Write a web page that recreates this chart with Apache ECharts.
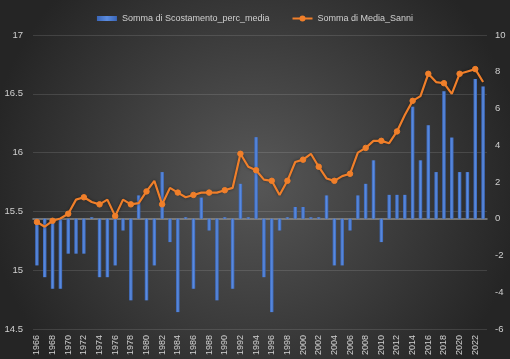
<!DOCTYPE html>
<html>
<head>
<meta charset="utf-8">
<script src="https://cdn.jsdelivr.net/npm/echarts@6/dist/echarts.min.js"></script>
<style>html,body{margin:0;padding:0;background:#2a2a2a;}#c{width:510px;height:359px;}</style>
</head>
<body>
<div id="c"></div>
<script>
const years = [];
for (let y = 1966; y <= 2023; y++) years.push(String(y));

const scostamento = [
  -2.54, -3.18, -3.81, -3.81, -1.9, -1.9, -1.9, 0, -3.18, -3.18,
  -2.54, -0.64, -4.44, 1.27, -4.44, -2.54, 2.54, -1.27, -5.08, 0,
  -3.81, 1.15, -0.64, -4.44, 0, -3.81, 1.9, 0, 4.44, -3.18,
  -5.08, -0.64, 0, 0.64, 0.64, 0, 0, 1.27, -2.54, -2.54,
  -0.64, 1.27, 1.9, 3.18, -1.27, 1.3, 1.3, 1.3, 6.1, 3.18,
  5.09, 2.54, 6.94, 4.42, 2.54, 2.54, 7.6, 7.2
];

const mediaSanni = [
  15.41, 15.37, 15.42, 15.44, 15.48, 15.60, 15.62, 15.58, 15.56, 15.60,
  15.46, 15.60, 15.56, 15.57, 15.67, 15.76, 15.56, 15.70, 15.66, 15.62,
  15.64, 15.66, 15.66, 15.66, 15.68, 15.70, 15.99, 15.88, 15.85, 15.77,
  15.76, 15.64, 15.76, 15.92, 15.94, 15.99, 15.88, 15.78, 15.76, 15.80,
  15.82, 16.00, 16.04, 16.10, 16.10, 16.08, 16.18, 16.32, 16.44, 16.48,
  16.67, 16.60, 16.59, 16.50, 16.67, 16.69, 16.71, 16.60
];

const leftMin = 14.5, leftMax = 17, leftStep = 0.5;
const rightMin = -6, rightMax = 10, rightStep = 2;

const chart = echarts.init(document.getElementById('c'), null, {renderer: 'canvas'});
const txt = '#d0d0d0';
const font = 'Liberation Sans';
chart.setOption({
  animation: false,
  backgroundColor: new echarts.graphic.RadialGradient(0.5, 0.5, 0.75, [
    {offset: 0, color: '#575757'},
    {offset: 1, color: '#252525'}
  ]),
  textStyle: {fontFamily: font},
  legend: {
    top: 9,
    left: 'center',
    itemGap: 22,
    itemWidth: 20,
    itemHeight: 5,
    textStyle: {color: txt, fontSize: 9, fontFamily: font},
    data: [
      {name: 'Somma di Scostamento_perc_media', icon: 'rect'},
      {name: 'Somma di Media_Sanni'}
    ]
  },
  grid: {left: 33, right: 23, top: 35, bottom: 30, containLabel: false},
  xAxis: {
    type: 'category',
    data: years,
    boundaryGap: true,
    axisLine: {show: true, lineStyle: {color: '#8c8c8c', width: 1.5}},
    axisTick: {show: false},
    axisLabel: {color: txt, fontSize: 9, rotate: 90, interval: 1, margin: 6, fontFamily: font}
  },
  yAxis: [
    {
      type: 'value', min: leftMin, max: leftMax, interval: leftStep,
      axisLine: {show: false}, axisTick: {show: false},
      axisLabel: {color: txt, fontSize: 9.5, margin: 10, fontFamily: font},
      splitLine: {show: true, lineStyle: {color: 'rgba(255,255,255,0.12)', width: 1}}
    },
    {
      type: 'value', min: rightMin, max: rightMax, interval: rightStep,
      axisLine: {show: false}, axisTick: {show: false},
      axisLabel: {color: txt, fontSize: 9.5, margin: 8, fontFamily: font},
      splitLine: {show: false}
    }
  ],
  series: [
    {
      name: 'Somma di Scostamento_perc_media',
      type: 'bar',
      yAxisIndex: 1,
      data: scostamento,
      barWidth: 3.5,
      barMinHeight: 1.5,
      itemStyle: {
        color: new echarts.graphic.LinearGradient(0, 0, 1, 0, [
          {offset: 0, color: '#3a66b8'},
          {offset: 0.5, color: '#5b8ce0'},
          {offset: 1, color: '#3a66b8'}
        ])
      },
      z: 2
    },
    {
      name: 'Somma di Media_Sanni',
      type: 'line',
      yAxisIndex: 0,
      data: mediaSanni,
      symbol: 'circle',
      symbolSize: 5.5,
      lineStyle: {color: '#F07F2A', width: 2.2, shadowColor: 'rgba(0,0,0,0.5)', shadowBlur: 3},
      itemStyle: {color: '#F07F2A', borderColor: '#F07F2A', borderWidth: 1},
      z: 3
    }
  ]
});
</script>
</body>
</html>
